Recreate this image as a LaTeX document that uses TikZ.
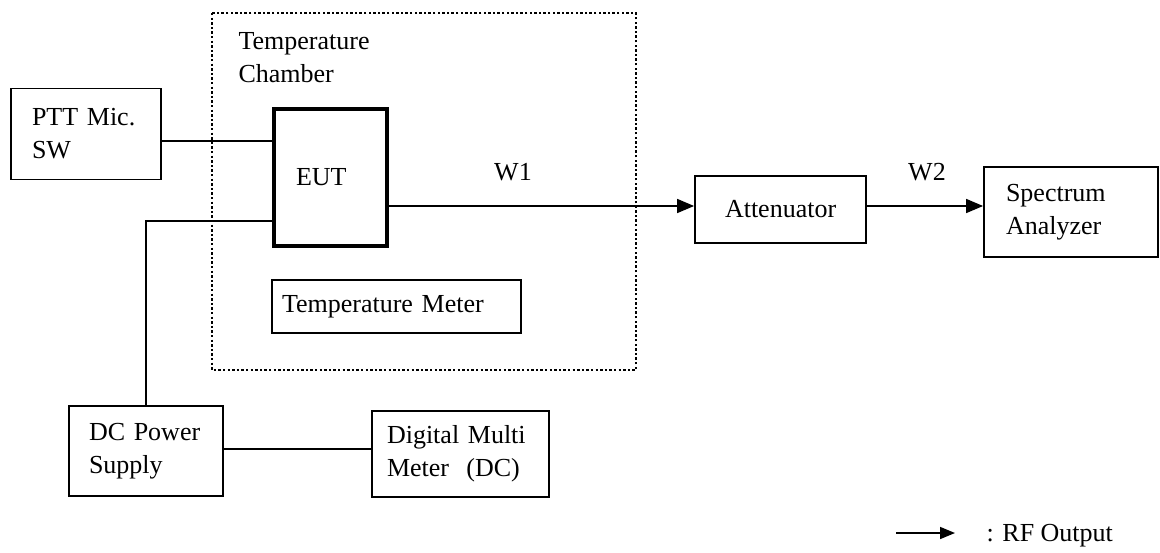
\documentclass[tikz,border=0pt]{standalone}
\usepackage{fontspec}
\setmainfont{Liberation Serif}
\usetikzlibrary{arrows.meta}
\begin{document}
\begin{tikzpicture}[x=1pt,y=-1pt,
  every node/.style={font=\fontsize{26}{33}\selectfont},
  box/.style={draw,line width=1.8pt,rectangle,align=left,inner ysep=0pt},
  wire/.style={line width=1.6pt},
  rf/.style={line width=1.6pt,-{Triangle[length=17pt,width=14pt]}},
  chamber/.style={line width=2.4pt,dash pattern=on 2.4pt off 2.2pt}]
\useasboundingbox (0,0) rectangle (1160,552);
% chamber
\draw[chamber] (212,13) rectangle (636,370);
\node[anchor=base west,align=left] (chlabel) at (235,82) {Temperature\\Chamber};
% boxes
\node[box,minimum width=150pt,minimum height=91pt,inner xsep=21pt,text width=108pt] (ptt) at (86,134) {PTT Mic.\\SW};
\node[draw,line width=4.5pt,minimum width=113pt,minimum height=137pt,inner xsep=22pt,text width=69pt,align=left] (eut) at (330.5,177.5) {EUT};
\node[box,minimum width=171pt,minimum height=67pt,inner xsep=30pt,text width=111pt] (att) at (780.5,209.5) {Attenuator};
\node[box,minimum width=174pt,minimum height=90pt,inner xsep=22pt,text width=130pt] (sa) at (1071,212) {Spectrum\\Analyzer};
\node[box,minimum width=249pt,minimum height=53pt,inner xsep=10pt,text width=229pt] (tm) at (396.5,306.5) {Temperature Meter};
\node[box,minimum width=154pt,minimum height=90pt,inner xsep=20pt,text width=114pt] (dc) at (146,451) {DC Power\\Supply};
\node[box,minimum width=177pt,minimum height=86pt,inner xsep=15pt,text width=147pt] (dmm) at (460.5,454) {Digital Multi\\Meter\ \ (DC)};
% connectors
\draw[wire] (ptt.east |- 0,141) -- (eut.west |- 0,141);
\draw[wire] (eut.west |- 0,221) -| (dc.north);
\draw[wire] (dc.east |- 0,449) -- (dmm.west |- 0,449);
\draw[rf] (eut.east |- 0,206) -- (att.west |- 0,206);
\draw[rf] (att.east |- 0,206) -- (sa.west |- 0,206);
\node (w1) at (513,172) {W1};
\node (w2) at (927,172) {W2};
% legend
\coordinate (lg1) at (896,533);
\coordinate (lg2) at (955,533);
\draw[line width=1.6pt,-{Triangle[length=15pt,width=12pt]}] (lg1) -- (lg2);
\node[anchor=base west] (lgt) at (983,541) {: RF Output};
\end{tikzpicture}
\end{document}
